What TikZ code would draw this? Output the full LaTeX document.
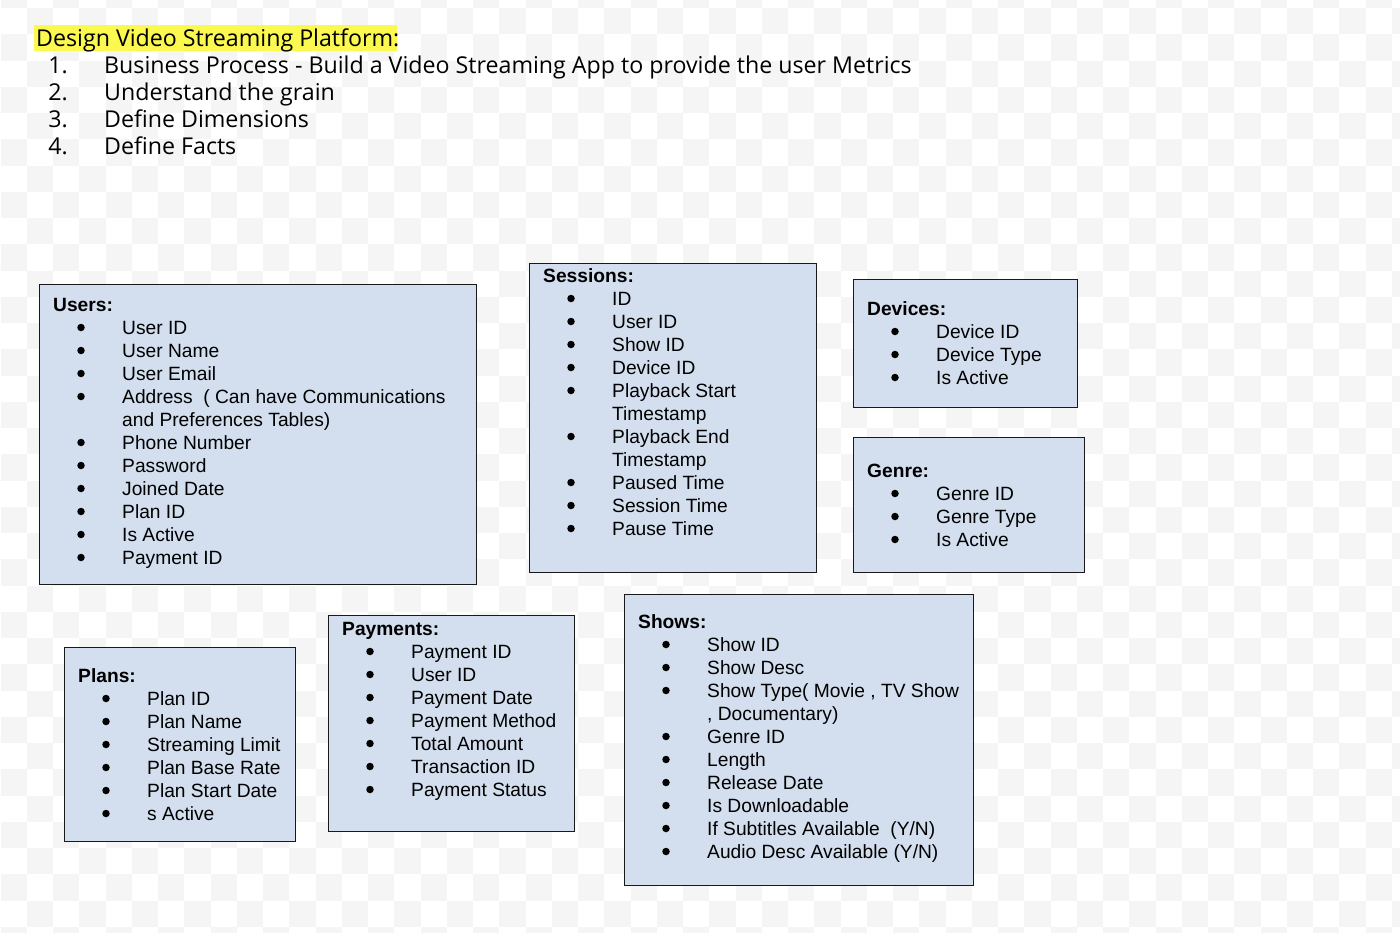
\documentclass[tikz,border=0pt]{standalone}
\usepackage{fontspec}
\setmainfont{Liberation Sans}
\newfontfamily\titlefont{Open Sans}
\definecolor{boxfill}{HTML}{D3DFEE}
\definecolor{checker}{HTML}{F5F5F5}
\definecolor{hl}{HTML}{FBF84F}
\newcommand\entitybox[8]{%
  \node[tbl, minimum width=#4pt, minimum height=#5pt] (#1) at (#2,#3) {};
  \node[hd] (#1-h) at (#2+14,#6) {#7};
  \foreach \b/\t [count=\i] in {#8} {
    \ifnum\b=1 \node[bul] (#1-b\i) at (#2+42,#6+23*\i-6.5) {};\fi
    \node[itm] (#1-i\i) at (#2+83,#6+23*\i) {\t};
  }
}
\begin{document}
\begin{tikzpicture}[x=1pt,y=-1pt,
  tbl/.style={draw=black!90, line width=1.4pt, fill=boxfill, rectangle, inner sep=0pt, anchor=north west},
  hd/.style={anchor=base west, inner sep=0pt, font=\fontsize{19.2}{23}\selectfont\bfseries},
  itm/.style={anchor=base west, inner sep=0pt, font=\fontsize{19.2}{23}\selectfont},
  bul/.style={circle, fill=black, inner sep=0pt, minimum size=7.5pt},
  ttl/.style={anchor=base west, inner sep=0pt, font=\titlefont\fontsize{23.2}{27}\selectfont},
  num/.style={anchor=base east, inner sep=0pt, font=\titlefont\fontsize{23.2}{27}\selectfont}]
\useasboundingbox (0,0) rectangle (1400,932);
\begin{scope}
  \clip (0,0) rectangle (1400,932);
  \fill[white] (0,0) rectangle (1400,932);
  \foreach \c in {0,...,53} {
    \foreach \r in {-1,...,35} {
      \ifodd\numexpr\c+\r+100\relax
        \fill[checker] (0.5+26.25*\c,8.2+26.25*\r) rectangle ++(26.25,26.25);
      \fi
    }
  }
\end{scope}
% title
\fill[hl] (34,25) rectangle (397,51);
\node[ttl] (title) at (36,46) {Design Video Streaming Platform:};
\foreach \t [count=\i] in {Business Process - Build a Video Streaming App to provide the user Metrics, Understand the grain, Define Dimensions, Define Facts} {
  \node[num] (n\i) at (68,73+27*\i-27) {\i.};
  \node[ttl] (s\i) at (104,73+27*\i-27) {\t};
}
% tables
\entitybox{users}{39}{284}{437}{300}{311}{Users:}{1/User ID, 1/User Name, 1/User Email, 1/{Address\ \ ( Can have Communications}, 0/{and Preferences Tables)}, 1/Phone Number, 1/Password, 1/Joined Date, 1/Plan ID, 1/Is Active, 1/Payment ID}
\entitybox{sessions}{529}{263}{287}{309}{282}{Sessions:}{1/ID, 1/User ID, 1/Show ID, 1/Device ID, 1/Playback Start, 0/Timestamp, 1/Playback End, 0/Timestamp, 1/Paused Time, 1/Session Time, 1/Pause Time}
\entitybox{devices}{853}{279}{224}{128}{315}{Devices:}{1/Device ID, 1/Device Type, 1/Is Active}
\entitybox{genre}{853}{437}{231}{135}{477}{Genre:}{1/Genre ID, 1/Genre Type, 1/Is Active}
\entitybox{plans}{64}{647}{231}{194}{682}{Plans:}{1/Plan ID, 1/Plan Name, 1/Streaming Limit, 1/Plan Base Rate, 1/Plan Start Date, 1/s Active}
\entitybox{payments}{328}{615}{246}{216}{635}{Payments:}{1/Payment ID, 1/User ID, 1/Payment Date, 1/Payment Method, 1/Total Amount, 1/Transaction ID, 1/Payment Status}
\entitybox{shows}{624}{594}{349}{291}{628}{Shows:}{1/Show ID, 1/Show Desc, 1/{Show Type( Movie , TV Show}, 0/{, Documentary)}, 1/Genre ID, 1/Length, 1/Release Date, 1/Is Downloadable, 1/{If Subtitles Available\ \ (Y/N)}, 1/{Audio Desc Available (Y/N)}}
\end{tikzpicture}
\end{document}
